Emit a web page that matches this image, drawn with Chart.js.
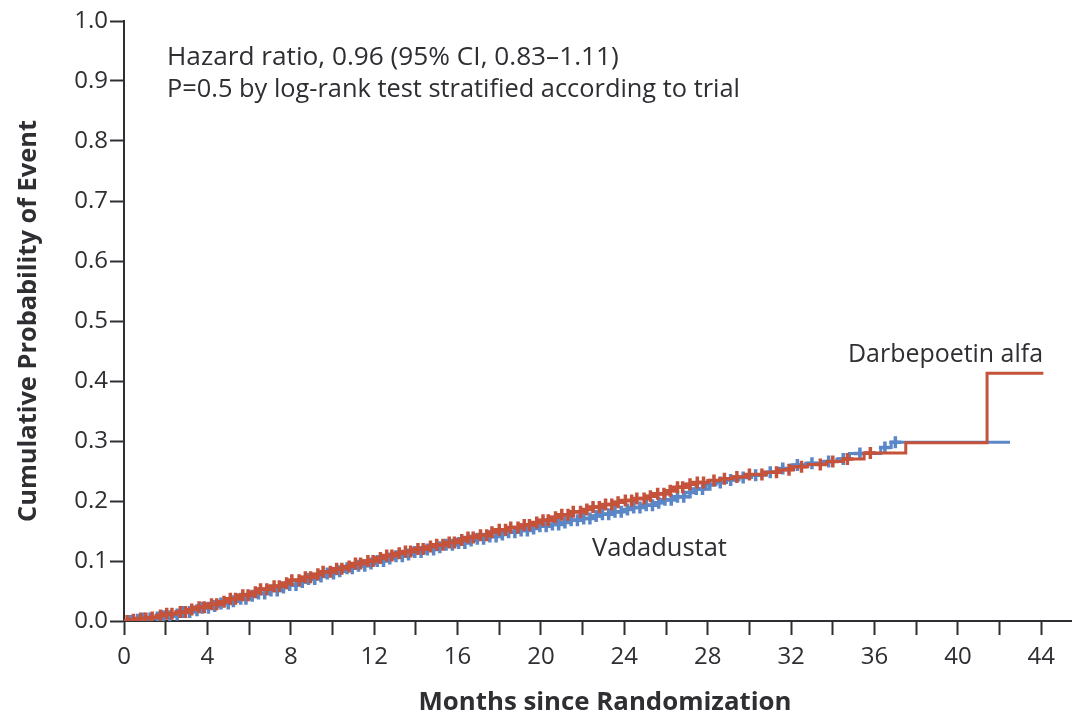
<!DOCTYPE html>
<html>
<head>
<meta charset="utf-8">
<script src="https://cdn.jsdelivr.net/npm/chart.js@4/dist/chart.umd.min.js"></script>
<style>
  html, body { margin: 0; padding: 0; background: #ffffff; }
  #wrap { width: 1081px; height: 717px; }
</style>
</head>
<body>
<div id="wrap"><canvas id="km" width="1081" height="717"></canvas></div>
<script>
// Kaplan-Meier step points: month of each step and cumulative probability after it
const darbeMonths = [0, 0.3, 0.8, 1.2, 1.6, 2.0, 2.5, 3.0, 3.5, 4.0, 4.5, 5.0, 5.5, 6.0, 6.5, 7.0, 7.5, 8.0, 8.5, 9.0,
  9.5, 10.0, 10.5, 11.0, 11.5, 12.0, 12.5, 13.0, 13.5, 14.0, 14.5, 15.0, 15.5, 16.0, 16.5, 17.0, 17.5, 18.0, 18.5, 19.0,
  19.5, 20.0, 20.5, 21.0, 21.5, 22.0, 22.5, 23.0, 23.5, 24.0, 24.5, 25.0, 25.5, 26.0, 26.5, 27.0, 27.5, 28.0, 28.6, 29.2,
  30.0, 30.7, 31.4, 32.0, 32.8, 33.7, 34.5, 35.5, 37.5, 41.4, 44.1];
const darbeRisk = [0, 0.002, 0.004, 0.006, 0.009, 0.012, 0.015, 0.019, 0.023, 0.028, 0.032, 0.037, 0.043, 0.048, 0.053, 0.058, 0.063, 0.068, 0.073, 0.078,
  0.082, 0.087, 0.091, 0.096, 0.100, 0.105, 0.109, 0.113, 0.116, 0.120, 0.124, 0.127, 0.131, 0.135, 0.139, 0.143, 0.148, 0.152, 0.156, 0.160,
  0.164, 0.168, 0.173, 0.177, 0.182, 0.186, 0.190, 0.194, 0.198, 0.201, 0.204, 0.208, 0.212, 0.217, 0.223, 0.228, 0.231, 0.234, 0.237, 0.240,
  0.244, 0.248, 0.252, 0.257, 0.261, 0.266, 0.270, 0.280, 0.297, 0.413, 0.413];

const vadaMonths = [0, 0.4, 0.9, 1.4, 1.8, 2.3, 2.8, 3.2, 3.7, 4.1, 4.6, 5.1, 5.5, 6.0, 6.4, 6.9, 7.4, 7.8, 8.3, 8.8,
  9.2, 9.7, 10.1, 10.6, 11.1, 11.6, 12.0, 12.5, 13.0, 13.4, 13.9, 14.4, 14.9, 15.4, 15.9, 16.4, 16.9, 17.4, 17.9, 18.4,
  18.9, 19.4, 19.9, 20.4, 20.9, 21.4, 21.9, 22.4, 22.9, 23.4, 23.9, 24.4, 24.9, 25.4, 25.9, 26.4, 26.9, 27.4, 27.9, 28.4,
  28.9, 29.5, 30.1, 30.8, 31.4, 32.0, 32.7, 33.5, 34.2, 34.8, 36.3, 36.8, 42.5];
const vadaRisk = [0, 0.002, 0.004, 0.006, 0.008, 0.011, 0.015, 0.018, 0.022, 0.025, 0.029, 0.033, 0.037, 0.042, 0.046, 0.051, 0.056, 0.060, 0.065, 0.070,
  0.074, 0.079, 0.083, 0.088, 0.092, 0.096, 0.100, 0.104, 0.108, 0.111, 0.115, 0.119, 0.123, 0.127, 0.130, 0.134, 0.137, 0.141, 0.144, 0.148,
  0.151, 0.154, 0.158, 0.161, 0.164, 0.168, 0.171, 0.175, 0.178, 0.182, 0.186, 0.189, 0.193, 0.197, 0.202, 0.207, 0.214, 0.220, 0.227, 0.231,
  0.235, 0.239, 0.243, 0.248, 0.254, 0.260, 0.263, 0.266, 0.270, 0.279, 0.289, 0.298, 0.298];

// Censored observations (months)
const darbeCensored = [0.15, 0.45, 0.8, 1.05, 1.35, 1.75, 2.05, 2.3, 2.7, 2.95, 3.25, 3.6, 3.85, 4.2, 4.45, 4.8, 5.1, 5.35, 5.7, 5.95,
  6.3, 6.55, 6.85, 7.2, 7.45, 7.8, 8.05, 8.4, 8.7, 8.95, 9.3, 9.55, 9.9, 10.2, 10.45, 10.8, 11.1, 11.35, 11.7, 11.95,
  12.3, 12.6, 12.85, 13.2, 13.5, 13.75, 14.1, 14.35, 14.7, 15.0, 15.3, 15.6, 15.85, 16.2, 16.5, 16.75, 17.1, 17.4, 17.65, 18.0,
  18.3, 18.55, 18.9, 19.2, 19.45, 19.8, 20.1, 20.35, 20.7, 21.0, 21.3, 21.55, 21.9, 22.2, 22.5, 22.8, 23.1, 23.4, 23.7, 24.05,
  24.35, 24.6, 24.95, 25.25, 25.6, 25.9, 26.2, 26.55, 26.8, 27.15, 27.5, 27.8, 28.3, 28.8, 29.4, 30.0, 30.6, 31.3, 31.9, 32.5,
  33.4, 34.0, 34.7, 35.8];
const vadaCensored = [0.3, 0.65, 0.95, 1.25, 1.6, 1.9, 2.2, 2.55, 2.85, 3.15, 3.5, 3.75, 4.05, 4.35, 4.65, 5.0, 5.25, 5.6, 5.85, 6.15,
  6.45, 6.75, 7.05, 7.35, 7.65, 7.95, 8.25, 8.55, 8.85, 9.15, 9.45, 9.75, 10.05, 10.35, 10.7, 10.95, 11.25, 11.55, 11.85, 12.15,
  12.45, 12.75, 13.05, 13.35, 13.65, 13.95, 14.25, 14.55, 14.85, 15.15, 15.45, 15.75, 16.05, 16.35, 16.65, 16.95, 17.25, 17.55, 17.85, 18.15,
  18.45, 18.75, 19.05, 19.35, 19.65, 19.95, 20.25, 20.55, 20.85, 21.15, 21.45, 21.75, 22.05, 22.35, 22.65, 22.95, 23.25, 23.55, 23.85, 24.15,
  24.45, 24.75, 25.05, 25.35, 25.65, 25.95, 26.25, 26.55, 26.85, 27.15, 27.45, 27.75, 28.1, 28.6, 29.1, 29.7, 30.3, 31.0, 31.6, 32.3,
  33.0, 33.8, 34.5, 35.3, 36.5, 37.0];

const seriesNames = ['Darbepoetin alfa', 'Vadadustat'];
const statLines = ['Hazard ratio, 0.96 (95% CI, 0.83\u20131.11)', 'P=0.5 by log-rank test stratified according to trial'];
const xTitle = 'Months since Randomization';
const yTitle = 'Cumulative Probability of Event';
const xTickValues = [0, 4, 8, 12, 16, 20, 24, 28, 32, 36, 40, 44];

const RED = '#c5523a';
const BLUE = '#5b87c7';
const INK = '#2e2e33';
const FONT = '"Open Sans", Lato, sans-serif';

function points(months, risk) {
  return months.map((m, i) => ({ x: m, y: risk[i] }));
}
// value of the step curve at a given month
function riskAt(months, risk, t) {
  let v = 0;
  for (let i = 0; i < months.length; i++) { if (months[i] <= t) v = risk[i]; else break; }
  return v;
}
function censorPoints(times, months, risk) {
  return times.map(t => ({ x: t, y: riskAt(months, risk, t) }));
}
// font size that makes a text span the given width
function fitFont(ctx, text, weight, width) {
  ctx.font = weight + ' 100px ' + FONT;
  const size = 100 * width / ctx.measureText(text).width;
  return weight + ' ' + size.toFixed(2) + 'px ' + FONT;
}

const labels = {
  id: 'labels',
  afterDatasetsDraw(chart) {
    const ctx = chart.ctx;
    ctx.save();
    ctx.fillStyle = INK;
    ctx.textBaseline = 'alphabetic';
    ctx.textAlign = 'left';
    ctx.font = fitFont(ctx, statLines[0], 'normal', 452);
    ctx.fillText(statLines[0], 167, 65);
    ctx.font = fitFont(ctx, statLines[1], 'normal', 573);
    ctx.fillText(statLines[1], 167, 97);
    ctx.font = fitFont(ctx, seriesNames[0], 'normal', 195);
    ctx.fillText(seriesNames[0], 848, 362);
    ctx.font = fitFont(ctx, seriesNames[1], 'normal', 135);
    ctx.fillText(seriesNames[1], 592, 556);
    ctx.textAlign = 'center';
    ctx.textBaseline = 'middle';
    ctx.font = fitFont(ctx, xTitle, 'bold', 373);
    ctx.fillText(xTitle, 605, 703);
    ctx.font = fitFont(ctx, yTitle, 'bold', 402);
    ctx.translate(29, 321);
    ctx.rotate(-Math.PI / 2);
    ctx.fillText(yTitle, 0, 0);
    ctx.restore();
  }
};

new Chart(document.getElementById('km'), {
  type: 'line',
  data: {
    datasets: [
      { label: seriesNames[0], data: points(darbeMonths, darbeRisk), borderColor: RED, borderWidth: 3,
        stepped: 'before', pointRadius: 0, fill: false },
      { type: 'scatter', label: seriesNames[0] + ' censored', data: censorPoints(darbeCensored, darbeMonths, darbeRisk),
        pointStyle: 'cross', pointRadius: 6, pointBorderWidth: 3.5, borderColor: RED, backgroundColor: RED, showLine: false },
      { label: seriesNames[1], data: points(vadaMonths, vadaRisk), borderColor: BLUE, borderWidth: 3,
        stepped: 'before', pointRadius: 0, fill: false },
      { type: 'scatter', label: seriesNames[1] + ' censored', data: censorPoints(vadaCensored, vadaMonths, vadaRisk),
        pointStyle: 'cross', pointRadius: 6, pointBorderWidth: 3.5, borderColor: BLUE, backgroundColor: BLUE, showLine: false }
    ]
  },
  options: {
    responsive: false,
    animation: false,
    events: [],
    layout: { padding: { top: 21, right: 0, left: 0, bottom: 0 } },
    plugins: { legend: { display: false }, tooltip: { enabled: false } },
    scales: {
      x: {
        type: 'linear', min: 0, max: 45.45,
        afterFit(s) { s.height = 96; },
        border: { display: true, color: INK, width: 2 },
        grid: { drawOnChartArea: false, drawTicks: true, tickLength: 14, tickColor: INK, tickWidth: 2 },
        ticks: {
          stepSize: 2, includeBounds: false, autoSkip: false, maxRotation: 0, padding: 8, color: INK,
          font: { family: FONT, size: 24 },
          callback: v => xTickValues.includes(v) ? String(v) : ''
        }
      },
      y: {
        type: 'linear', min: 0, max: 1,
        afterFit(s) { s.width = 124; },
        border: { display: true, color: INK, width: 2 },
        grid: { drawOnChartArea: false, drawTicks: true, tickLength: 14, tickColor: INK, tickWidth: 2 },
        ticks: { stepSize: 0.1, padding: 2, color: INK, font: { family: FONT, size: 24 },
          callback: v => v.toFixed(1) }
      }
    }
  },
  plugins: [labels]
});
</script>
</body>
</html>
